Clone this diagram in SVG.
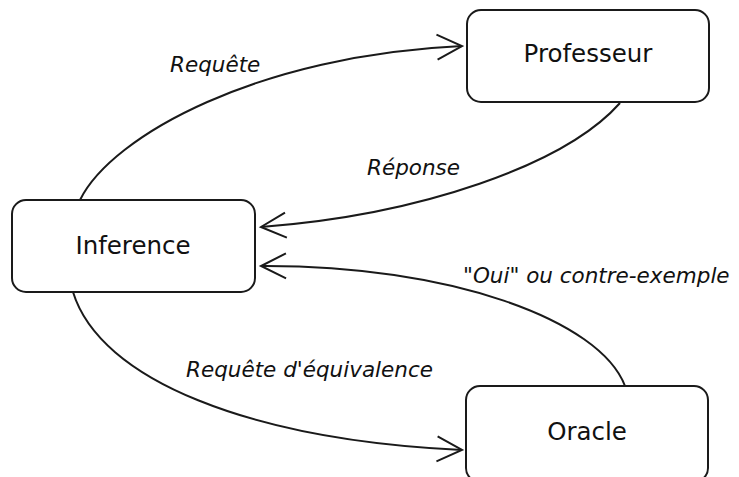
<svg xmlns="http://www.w3.org/2000/svg" width="739" height="477" viewBox="0 0 739 477">
  <style>
    .box { fill: #ffffff; stroke: #1a1a1a; stroke-width: 2; }
    .name { font-family: "DejaVu Sans", Verdana, sans-serif; font-size: 24.5px; fill: #111; text-anchor: middle; }
    .edge { fill: none; stroke: #1a1a1a; stroke-width: 2; marker-end: url(#open); }
    .label { font-family: "DejaVu Sans", Verdana, sans-serif; font-size: 21.5px; font-style: italic; fill: #111; }
  </style>
  <defs>
    <marker id="open" markerUnits="userSpaceOnUse" markerWidth="40" markerHeight="40" refX="0" refY="0" viewBox="-30 -20 40 40" orient="auto" overflow="visible">
      <path d="M-25,-12.5 L0,0 L-25,12.5" fill="none" stroke="#1a1a1a" stroke-width="2"/>
    </marker>
  </defs>
  <rect width="739" height="477" fill="#ffffff"/>

  <g id="edges">
    <path class="edge" d="M80,200 C112,135 260,55 462,46"/>
    <path class="edge" d="M620,103 C565,165 420,215 261,227"/>
    <path class="edge" d="M625,386 C600,320 450,265 261,266"/>
    <path class="edge" d="M73,292 C100,380 250,440 462,450"/>
    <text class="label" x="170" y="72">Requête</text>
    <text class="label" x="367" y="175">Réponse</text>
    <text class="label" x="463" y="283">"Oui" ou contre-exemple</text>
    <text class="label" x="186" y="377">Requête d'équivalence</text>
  </g>

  <g id="inference">
    <rect class="box" x="12" y="200" width="243" height="92" rx="14"/>
    <text class="name" x="133" y="254">Inference</text>
  </g>
  <g id="professeur">
    <rect class="box" x="467" y="10" width="242" height="92" rx="14"/>
    <text class="name" x="588" y="62">Professeur</text>
  </g>
  <g id="oracle">
    <rect class="box" x="466" y="386" width="242" height="96" rx="14"/>
    <text class="name" x="587" y="440">Oracle</text>
  </g>
</svg>
